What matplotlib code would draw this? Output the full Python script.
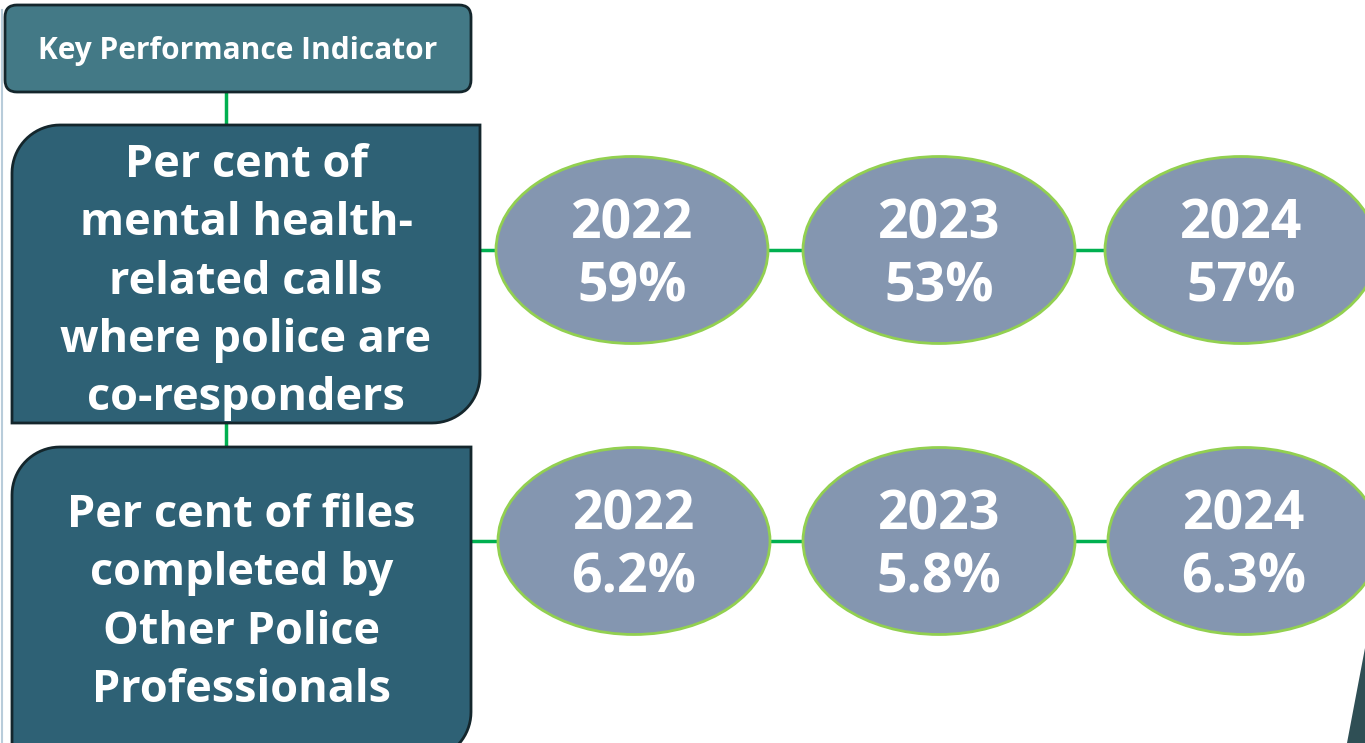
import numpy as np
import matplotlib.pyplot as plt
from matplotlib.patches import Ellipse, FancyBboxPatch, Polygon

# KPI data
kpi_labels = [
    "Per cent of\nmental health-\nrelated calls\nwhere police are\nco-responders",
    "Per cent of files\ncompleted by\nOther Police\nProfessionals",
]
years = ["2022", "2023", "2024"]
values = [
    ["59%", "53%", "57%"],
    ["6.2%", "5.8%", "6.3%"],
]

W, H = 1365, 743
fig = plt.figure(figsize=(W / 100, H / 100), dpi=100)
ax = fig.add_axes([0, 0, 1, 1])
ax.set_xlim(0, W)
ax.set_ylim(H, 0)
ax.axis("off")

font = ["Open Sans", "DejaVu Sans"]
green_line = "#00B050"
box_col = "#2E6175"
edge_col = "#14262C"


def corner_box(x0, y0, x1, y1, r):
    # rectangle with rounded top-left and bottom-right corners (y axis points down)
    pts = []
    t = np.linspace(np.pi, 1.5 * np.pi, 20)
    pts += list(zip(x0 + r + r * np.cos(t), y0 + r + r * np.sin(t)))
    pts += [(x1, y0)]
    t = np.linspace(0, 0.5 * np.pi, 20)
    pts += list(zip(x1 - r + r * np.cos(t), y1 - r + r * np.sin(t)))
    pts += [(x0, y1)]
    return Polygon(pts, closed=True, facecolor=box_col, edgecolor=edge_col, lw=2, zorder=3)


# thin light line on the left edge
ax.plot([2, 2], [10, H], color="#B8CCDA", lw=1.5, zorder=1)

# header
hdr = FancyBboxPatch((5, 5), 466, 87, boxstyle="round,pad=0,rounding_size=12",
                     facecolor="#437986", edgecolor=edge_col, lw=2, zorder=3)
ax.add_patch(hdr)
ax.text(238, 51, "Key Performance Indicator", color="white", fontsize=21.5,
        fontweight="bold", family=font, ha="center", va="center", zorder=4)

# vertical connectors
ax.plot([226, 226], [92, 126], color=green_line, lw=2.5, zorder=2)
ax.plot([226, 226], [423, 448], color=green_line, lw=2.5, zorder=2)

rows = [
    dict(box=(12, 125, 480, 423), ty=282, cy=250, cx=[632, 939, 1241], conn_x=480),
    dict(box=(12, 447, 471, 760), ty=603, cy=541, cx=[634, 939, 1244], conn_x=465),
]

for i, row in enumerate(rows):
    x0, y0, x1, y1 = row["box"]
    ax.add_patch(corner_box(x0, y0, x1, y1, 48))
    ax.text((x0 + x1) / 2, row["ty"], kpi_labels[i], color="white", fontsize=32.4,
            fontweight="bold", family=font, ha="center", va="center",
            linespacing=1.39, zorder=4)
    cy = row["cy"]
    ax.plot([row["conn_x"], row["cx"][-1]], [cy, cy], color=green_line, lw=2.5, zorder=2)
    for j, cx in enumerate(row["cx"]):
        ax.add_patch(Ellipse((cx, cy), 272, 187, facecolor="#8496B0",
                             edgecolor="#92D050", lw=2, zorder=3))
        ax.text(cx, cy + 6, years[j] + "\n" + values[i][j], color="white", fontsize=38.6,
                fontweight="bold", family=font, ha="center", va="center",
                linespacing=1.2, zorder=4)

# dark shape in the bottom-right corner
ax.add_patch(Polygon([(1365, 648), (1347, H), (W, H)], closed=True,
                     facecolor="#2F4F55", edgecolor="none", zorder=2))

fig.savefig("out.png", dpi=100)
